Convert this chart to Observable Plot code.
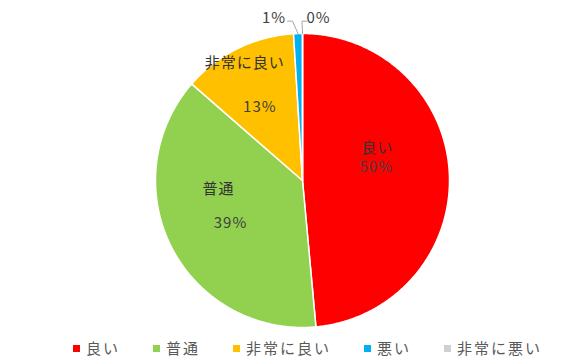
<!DOCTYPE html>
<html>
<head>
<meta charset="utf-8">
<script src="https://cdn.jsdelivr.net/npm/d3@7"></script>
<script src="https://cdn.jsdelivr.net/npm/@observablehq/plot@0.6"></script>
<style>
  html, body { margin: 0; padding: 0; background: #fff; }
  body { width: 581px; height: 362px; overflow: hidden; font-family: "Noto Sans CJK JP", "Noto Sans", sans-serif; }
  #legend { display: flex; align-items: center; height: 24px; padding-left: 73px; box-sizing: border-box; }
  #legend .item { display: flex; align-items: center; margin-right: 33px; }
  #legend .sw { width: 7px; height: 7px; margin-right: 6px; }
  #legend .lb { font-size: 15px; letter-spacing: 2px; color: #595959; line-height: 24px; }
</style>
</head>
<body>
<div id="chart"></div>
<div id="legend"></div>
<script>
// ---- data ----
const categories = ["良い", "普通", "非常に良い", "悪い", "非常に悪い"];
const values = [50, 39, 13, 1, 0];
const percentLabels = ["50%", "39%", "13%", "1%", "0%"];
const colors = ["#FF0000", "#92D050", "#FFC000", "#00B0F0", "#D0D0D0"];

// ---- pie geometry (unit circle, angle clockwise from top) ----
const arcs = d3.pie().sort(null).startAngle(0).endAngle(2 * Math.PI)(values);
const polar = (a, k) => ({x: k * Math.sin(a), y: k * Math.cos(a)});

const slicePts = [];
arcs.forEach((a, i) => {
  const name = categories[i];
  slicePts.push({name, ...polar(0, 0)});
  const n = Math.max(1, Math.ceil((a.endAngle - a.startAngle) / (Math.PI / 360)));
  for (let j = 0; j <= n; j++) {
    const t = a.startAngle + (a.endAngle - a.startAngle) * j / n;
    slicePts.push({name, ...polar(t, 1)});
  }
  slicePts.push({name, ...polar(0, 0)});
});

const slices = arcs.map((a, i) => {
  const mid = (a.startAngle + a.endAngle) / 2;
  return {i, name: categories[i], pct: percentLabels[i], mid, ...polar(mid, 0.55), edge: polar(mid, 1)};
});

// leader lines for the small slices
const leaders = [];
[[3, -1, 5.5], [4, 1, 0.5]].forEach(([i, side, elbow]) => {
  const s = slices[i];
  const e = s.edge;
  const ex = e.x - elbow / 147;
  leaders.push({i, x: e.x, y: e.y});
  leaders.push({i, x: ex, y: 1.084});
  leaders.push({i, x: ex + side * 5 / 147, y: 1.084});
});

const font = '"Noto Sans CJK JP", "Noto Sans", sans-serif';
const nameText = (i, dx, dy) => Plot.text(slices.filter(d => d.i === i), {
  x: "x", y: "y", text: "name", dx, dy, fill: "#333333", fontSize: 15, fontWeight: "normal", textAnchor: "middle"
});
const pctText = (i, dx, dy) => Plot.text(slices.filter(d => d.i === i), {
  x: "x", y: "y", text: "pct", dx, dy, fill: "#404040", fontSize: 15, textAnchor: "middle"
});
const outText = (i, dx, dy) => Plot.text(slices.filter(d => d.i === i), {
  x: d => d.edge.x, y: d => d.edge.y, text: "pct", dx, dy, fill: "#404040", fontSize: 15, textAnchor: "middle"
});

const chart = Plot.plot({
  width: 581,
  height: 336,
  margin: 0,
  style: {fontFamily: font, letterSpacing: "1px", background: "#fff"},
  x: {domain: [-1, 1], range: [155, 449], axis: null},
  y: {domain: [-1, 1], range: [327, 33], axis: null},
  color: {domain: categories, range: colors},
  marks: [
    Plot.line(slicePts, {x: "x", y: "y", z: "name", fill: "name", stroke: "#fff", strokeWidth: 1.5, strokeLinejoin: "round", curve: "linear"}),
    Plot.line(leaders, {x: "x", y: "y", z: "i", stroke: "#A6A6A6", strokeWidth: 1}),
    nameText(0, -6, -29),
    pctText(0, -7, -10),
    nameText(1, -12, -28),
    pctText(1, 0, 6),
    nameText(2, -22, -45),
    pctText(2, -7, -1),
    outText(3, -24, -15.5),
    outText(4, 16, -15.5)
  ]
});
document.getElementById("chart").appendChild(chart);

// ---- legend ----
const legend = d3.select("#legend");
categories.forEach((c, i) => {
  const it = legend.append("div").attr("class", "item");
  it.append("div").attr("class", "sw").style("background", colors[i]);
  it.append("span").attr("class", "lb").text(c);
});
</script>
</body>
</html>
